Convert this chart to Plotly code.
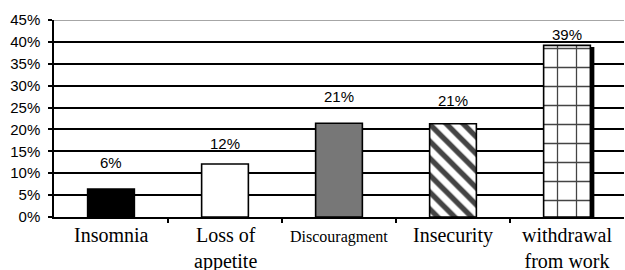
import plotly.graph_objects as go

categories = ["Insomnia", "Loss of<br>appetite", "Discouragment", "Insecurity", "withdrawal<br>from work"]
values = [6.4, 12.1, 21.4, 21.3, 39.2]
value_labels = ["6%", "12%", "21%", "21%", "39%"]
tick_vals = [0, 5, 10, 15, 20, 25, 30, 35, 40, 45]
tick_text = ["0%", "5%", "10%", "15%", "20%", "25%", "30%", "35%", "40%", "45%"]

xs = list(range(len(categories)))
bar_w = 0.41

fig = go.Figure()

# shadow behind last bar
fig.add_trace(go.Bar(
    x=[xs[-1]], y=[values[-1] - 0.35], width=bar_w, offset=-bar_w / 2 + 0.035,
    marker=dict(color="black", line=dict(width=0)), hoverinfo="skip", showlegend=False,
))

fig.add_trace(go.Bar(
    x=xs, y=values, width=bar_w,
    marker=dict(
        color=["black", "white", "#777777", "white", "white"],
        line=dict(color="black", width=1.6),
        pattern=dict(
            shape=["", "", "", "\\", "+"],
            fgcolor="black",
            fgopacity=1,
            bgcolor="white",
            size=[10, 10, 10, 12, 19],
            solidity=[0.3, 0.3, 0.3, 0.45, 0.13],
            fillmode="overlay",
        ),
    ),
    showlegend=False,
))

shifts = [26, 21, 27, 23, 11]
for x, v, t, s in zip(xs, values, value_labels, shifts):
    fig.add_annotation(x=x, y=v, text=t, showarrow=False, yanchor="middle", yshift=s,
                       font=dict(family="Liberation Sans, Arial", size=15, color="black"))

fig.update_layout(
    width=625, height=270,
    margin=dict(l=54, r=1, t=20, b=53, autoexpand=False),
    paper_bgcolor="white", plot_bgcolor="white",
    barmode="overlay",
    xaxis=dict(
        range=[-0.5, 4.5],
        tickvals=[x + 0.5 for x in xs[:-1]],
        ticktext=["", "", "", ""],
        ticks="outside", ticklen=4, tickcolor="black", tickwidth=1.5,
        showgrid=False, showline=True, linecolor="black", linewidth=1.5,
        zeroline=False, automargin=False,
    ),
    yaxis=dict(
        range=[0, 45], tickvals=tick_vals, ticktext=tick_text,
        ticks="outside", ticklen=4, tickcolor="black", tickwidth=1.5,
        showgrid=True, gridcolor="black", gridwidth=1.5,
        showline=True, linecolor="black", linewidth=1.5,
        zeroline=False, automargin=False,
        ticklabelstandoff=5,
        tickfont=dict(family="Liberation Sans, Arial", size=15, color="black"),
    ),
    font=dict(color="black"),
)

# category labels under the axis
for x, c in zip(xs, categories):
    small = c == "Discouragment"
    fig.add_annotation(x=x, y=0, yref="y", text=c, showarrow=False, yanchor="top",
                       yshift=-9 if small else -5,
                       font=dict(family="Liberation Serif, Times New Roman",
                                 size=16 if small else 20, color="black"))

fig.add_shape(type="line", xref="paper", yref="y", x0=0, x1=1, y0=45, y1=45,
              line=dict(color="#888888", width=1.5))

fig.write_html("out.html", config={"displayModeBar": False},
               post_script="document.body.style.margin='0';document.body.style.overflow='hidden';")
